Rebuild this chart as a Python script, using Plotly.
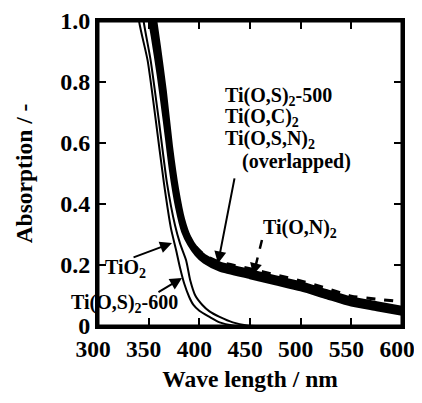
import plotly.graph_objects as go

# ---- data ----
wl_thin = [330, 340.5, 349, 357, 365, 372, 377, 381, 385, 390, 394, 400, 410, 420, 433, 450, 600]
tio2 = [1.35, 1.0, 0.87, 0.675, 0.47, 0.32, 0.25, 0.19, 0.14, 0.095, 0.07, 0.05, 0.03, 0.012, 0.002, 0.0, 0.0]
wl_thin2 = [335, 345, 352, 360, 368, 376, 381, 387, 391, 396, 403, 410, 420, 433, 447, 460, 600]
tos600 = [1.3, 1.0, 0.87, 0.675, 0.47, 0.33, 0.27, 0.215, 0.15, 0.1, 0.069, 0.048, 0.03, 0.012, 0.002, 0.0, 0.0]

wl_group = [340, 354, 360, 366, 372, 378, 384, 390, 397, 405, 420, 450, 475, 500, 525, 550, 575, 600]
tos500 = [1.22, 0.95, 0.82, 0.67, 0.51, 0.39, 0.31, 0.268, 0.235, 0.21, 0.185, 0.16, 0.14, 0.12, 0.095, 0.07, 0.055, 0.04]
toc = [1.3, 1.0, 0.87, 0.72, 0.55, 0.42, 0.33, 0.28, 0.245, 0.22, 0.195, 0.17, 0.15, 0.13, 0.105, 0.08, 0.065, 0.05]
tosn = [1.38, 1.06, 0.92, 0.77, 0.59, 0.45, 0.35, 0.292, 0.255, 0.23, 0.205, 0.18, 0.16, 0.14, 0.115, 0.09, 0.075, 0.06]
ton = [1.3, 1.0, 0.87, 0.72, 0.55, 0.42, 0.34, 0.292, 0.258, 0.233, 0.21, 0.188, 0.168, 0.148, 0.124, 0.098, 0.088, 0.08]

x_ticks = [300, 350, 400, 450, 500, 550, 600]
y_ticks = [0, 0.2, 0.4, 0.6, 0.8, 1.0]
y_ticktext = ["0", "0.2", "0.4", "0.6", "0.8", "1.0"]

FONT = "Liberation Serif"

fig = go.Figure()

def add(x, y, width, dash="solid", name=""):
    fig.add_trace(go.Scatter(x=x, y=y, mode="lines", name=name,
                             line=dict(color="black", width=width, dash=dash,
                                       shape="spline", smoothing=0.6),
                             showlegend=False, hoverinfo="skip"))

add(wl_thin, tio2, 2, name="TiO2")
add(wl_thin2, tos600, 2, name="Ti(O,S)2-600")
add(wl_group, tos500, 4, name="Ti(O,S)2-500")
add(wl_group, toc, 4, name="Ti(O,C)2")
add(wl_group, tosn, 4, name="Ti(O,S,N)2")
add(wl_group, ton, 3, dash="dash", name="Ti(O,N)2")

afont = dict(family=FONT, size=20, color="black", weight="bold")
ann = []
def label(text, x, y, xref="x"):
    ann.append(dict(text=text, x=x, y=y, xref=xref, yref="y", xanchor="left",
                    yanchor="middle", showarrow=False, font=afont))

def arrow(x0, y0, x1, y1):
    ann.append(dict(text="", x=x1, y=y1, ax=x0, ay=y0, xref="x", yref="y",
                    axref="x", ayref="y", showarrow=True, arrowhead=2,
                    arrowsize=1.2, arrowwidth=2, arrowcolor="black"))

label("Ti(O,S)<sub>2</sub>-500", 423, 0.751)
label("Ti(O,C)<sub>2</sub>", 423, 0.682)
label("Ti(O,S,N)<sub>2</sub>", 423, 0.61)
label("(overlapped)", 440, 0.538)
label("Ti(O,N)<sub>2</sub>", 461, 0.321)
label("TiO<sub>2</sub>", 305, 0.187)
label("Ti(O,S)<sub>2</sub>-600", -0.095, 0.075, xref="paper")

arrow(435, 0.489, 418.4, 0.205)
arrow(333.6, 0.223, 373, 0.272)
arrow(358.2, 0.108, 382.9, 0.157)

# dashed arrow for Ti(O,N)2
fig.add_shape(type="line", x0=461.8, y0=0.282, x1=455, y1=0.19, xref="x", yref="y",
              line=dict(color="black", width=2.5, dash="dash"))
ann.append(dict(text="", x=453, y=0.167, ax=455.5, ay=0.2, xref="x", yref="y",
                axref="x", ayref="y", showarrow=True, arrowhead=2,
                arrowsize=1.2, arrowwidth=2, arrowcolor="black"))

# plot frame
fig.add_shape(type="rect", x0=0, y0=0, x1=1, y1=1, xref="paper", yref="paper",
              line=dict(color="black", width=3), layer="above")

# the page adds an 8px body margin; size the figure so no scrollbars appear
fig.update_layout(
    width=406, height=387,
    margin=dict(l=90, r=12, t=13, b=69, autoexpand=False),
    paper_bgcolor="white", plot_bgcolor="white",
    annotations=ann,
    font=dict(family=FONT, color="black"),
)
fig.update_xaxes(range=[300, 600], tickvals=x_ticks, ticks="inside", ticklen=8,
                 tickwidth=2, tickcolor="black", showline=True, linewidth=3,
                 linecolor="black", mirror="ticks", showgrid=False, zeroline=False,
                 automargin=False, ticklabelshift=-5, ticklabeloverflow="allow",
                 tickfont=dict(family=FONT, size=23.5, weight="bold"),
                 title=dict(text="Wave length / nm", standoff=10,
                            font=dict(family=FONT, size=23.5, weight="bold")))
fig.update_yaxes(range=[0, 1.0], tickvals=y_ticks, ticktext=y_ticktext,
                 ticks="inside", ticklen=8, tickwidth=2, tickcolor="black",
                 showline=True, linewidth=3, linecolor="black", mirror="ticks",
                 showgrid=False, zeroline=False, automargin=False,
                 tickfont=dict(family=FONT, size=24, weight="bold"),
                 title=dict(text="Absorption / -", standoff=21,
                            font=dict(family=FONT, size=23.5, weight="bold")))

fig.write_html("out.html")
